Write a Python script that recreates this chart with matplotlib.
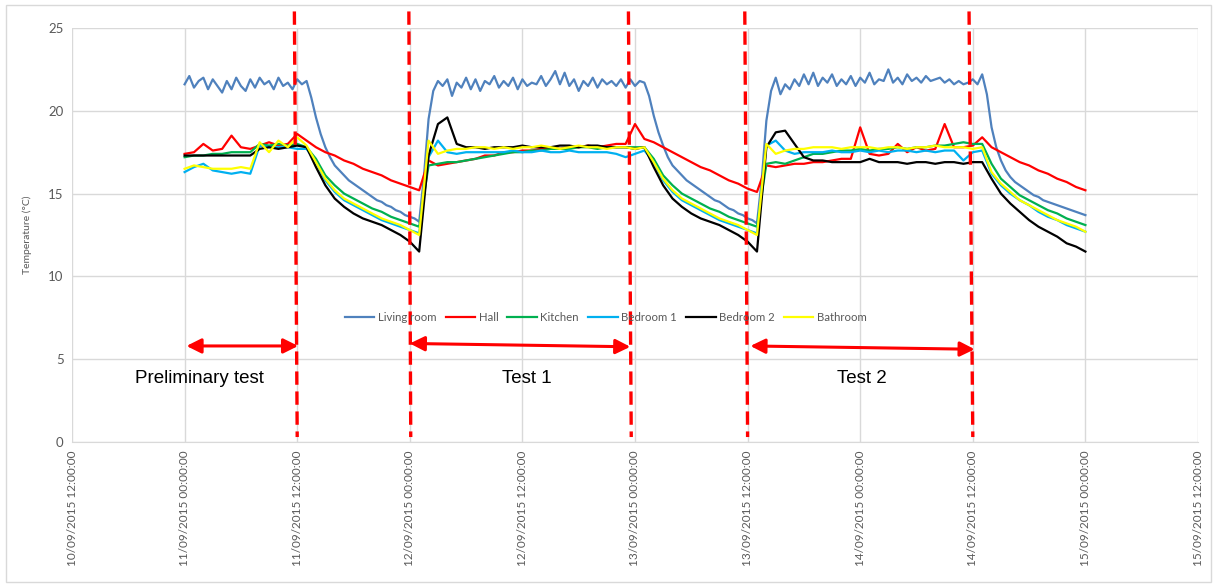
import matplotlib
matplotlib.use('Agg')
import matplotlib.pyplot as plt
import numpy as np
from matplotlib.patches import Rectangle

# hours since 11/09/2015 00:00
hours = np.arange(97)           # hourly readings
hours_half = np.arange(193) * 0.5  # living room, half-hourly

living_room = [
    # preliminary heating 0-13h
    21.6, 22.1, 21.4, 21.8, 22.0, 21.3, 21.9, 21.5, 21.1, 21.8,
    21.3, 22.0, 21.5, 21.2, 21.9, 21.4, 22.0, 21.6, 21.8, 21.3,
    22.0, 21.5, 21.7, 21.3, 21.9, 21.6, 21.8,
    # cooling 13.5-25h
    20.8, 19.6, 18.6, 17.8, 17.2, 16.7, 16.4, 16.1, 15.8, 15.6,
    15.4, 15.2, 15.0, 14.8, 14.6, 14.5, 14.3, 14.2, 14.0, 13.9,
    13.7, 13.6, 13.5, 13.3,
    # test 1 25.5-49h
    16.0, 19.5, 21.2, 21.8, 21.5, 21.9, 20.9, 21.7, 21.4, 22.0,
    21.3, 21.9, 21.2, 21.8, 21.6, 22.1, 21.4, 21.8, 21.5, 22.0,
    21.3, 21.9, 21.5, 21.7, 21.6, 22.1, 21.5, 21.9, 22.4, 21.6,
    22.3, 21.5, 21.9, 21.2, 21.8, 21.5, 22.0, 21.4, 21.9, 21.6,
    21.8, 21.5, 21.9, 21.4, 21.9, 21.5, 21.8, 21.7,
    # cooling 49.5-61h
    20.9, 19.7, 18.7, 17.9, 17.2, 16.7, 16.4, 16.1, 15.8, 15.6,
    15.4, 15.2, 15.0, 14.8, 14.6, 14.5, 14.3, 14.1, 14.0, 13.8,
    13.7, 13.5, 13.4, 13.2,
    # test 2 61.5-85h
    15.8, 19.4, 21.2, 22.0, 21.0, 21.6, 21.3, 21.9, 21.5, 22.2,
    21.6, 22.3, 21.5, 22.0, 21.7, 22.2, 21.5, 21.9, 21.6, 22.1,
    21.5, 22.0, 21.7, 22.3, 21.6, 21.9, 21.8, 22.5, 21.7, 22.0,
    21.6, 22.2, 21.8, 22.0, 21.7, 22.1, 21.8, 21.9, 22.0, 21.7,
    21.9, 21.6, 21.8, 21.6, 21.7, 21.9, 21.6, 22.2,
    # cooling 85.5-96h
    21.0, 19.0, 17.8, 17.0, 16.4, 16.0, 15.7, 15.5, 15.3, 15.1,
    14.9, 14.8, 14.6, 14.5, 14.4, 14.3, 14.2, 14.1, 14.0, 13.9,
    13.8, 13.7,
]

hall = [
    17.4, 17.5, 18.0, 17.6, 17.7, 18.5, 17.8, 17.7, 17.9, 18.1, 17.9, 18.0, 18.6, 18.2,
    17.8, 17.5, 17.3, 17.0, 16.8, 16.5, 16.3, 16.1, 15.8, 15.6, 15.4, 15.2,
    17.0, 16.7, 16.8, 16.9, 17.0, 17.1, 17.3, 17.3, 17.5, 17.5, 17.6, 17.6,
    17.7, 17.8, 17.7, 17.8, 17.8, 17.9, 17.8, 17.9, 18.0, 18.0, 19.2, 18.3,
    18.1, 17.8, 17.5, 17.2, 16.9, 16.6, 16.4, 16.1, 15.8, 15.6, 15.3, 15.1,
    16.7, 16.6, 16.7, 16.8, 16.8, 16.9, 16.9, 17.0, 17.1, 17.1, 19.0, 17.4,
    17.3, 17.4, 18.0, 17.5, 17.8, 17.6, 17.7, 19.2, 17.8, 17.8, 17.9, 18.4,
    17.8, 17.5, 17.2, 16.9, 16.7, 16.4, 16.2, 15.9, 15.7, 15.4, 15.2,
]

kitchen = [
    17.2, 17.3, 17.3, 17.4, 17.4, 17.5, 17.5, 17.5, 18.0, 17.9, 18.0, 17.9, 18.0, 17.8,
    17.1, 16.1, 15.5, 15.0, 14.7, 14.4, 14.1, 13.9, 13.6, 13.4, 13.2, 13.0,
    16.7, 16.8, 16.9, 16.9, 17.0, 17.1, 17.2, 17.3, 17.4, 17.5, 17.5, 17.6,
    17.6, 17.7, 17.7, 17.7, 17.8, 17.8, 17.7, 17.8, 17.8, 17.8, 17.8, 17.8,
    17.1, 16.1, 15.5, 15.0, 14.7, 14.4, 14.1, 13.9, 13.6, 13.4, 13.2, 13.0,
    16.8, 16.9, 16.8, 17.0, 17.2, 17.4, 17.4, 17.5, 17.6, 17.6, 17.7, 17.6,
    17.7, 17.7, 17.8, 17.7, 17.8, 17.8, 17.9, 17.9, 18.0, 18.1, 18.0, 18.0,
    16.8, 15.9, 15.4, 14.9, 14.6, 14.3, 14.0, 13.8, 13.5, 13.3, 13.1,
]

bedroom_1 = [
    16.3, 16.6, 16.8, 16.4, 16.3, 16.2, 16.3, 16.2, 17.9, 17.8, 17.8, 17.8, 17.7, 17.7,
    16.9, 15.8, 15.1, 14.6, 14.3, 14.0, 13.7, 13.4, 13.2, 13.0, 12.8, 12.6,
    17.2, 18.2, 17.5, 17.4, 17.5, 17.5, 17.5, 17.5, 17.5, 17.6, 17.5, 17.5,
    17.6, 17.5, 17.5, 17.6, 17.5, 17.5, 17.5, 17.5, 17.4, 17.2, 17.4, 17.6,
    16.9, 15.8, 15.1, 14.6, 14.3, 14.0, 13.7, 13.4, 13.2, 13.0, 12.8, 12.6,
    17.9, 18.2, 17.6, 17.4, 17.5, 17.5, 17.5, 17.6, 17.5, 17.5, 17.6, 17.5,
    17.6, 17.5, 17.6, 17.6, 17.5, 17.6, 17.5, 17.6, 17.6, 17.0, 17.5, 17.6,
    16.2, 15.5, 15.0, 14.6, 14.3, 13.9, 13.6, 13.4, 13.1, 12.9, 12.7,
]

bedroom_2 = [
    17.3, 17.3, 17.3, 17.3, 17.3, 17.3, 17.3, 17.3, 17.7, 17.8, 17.7, 17.8, 17.9, 17.8,
    16.6, 15.5, 14.7, 14.2, 13.8, 13.5, 13.3, 13.1, 12.8, 12.5, 12.1, 11.5,
    17.3, 19.2, 19.6, 18.0, 17.8, 17.8, 17.7, 17.8, 17.8, 17.8, 17.9, 17.8,
    17.8, 17.8, 17.9, 17.9, 17.8, 17.9, 17.9, 17.8, 17.8, 17.8, 17.7, 17.8,
    16.6, 15.5, 14.7, 14.2, 13.8, 13.5, 13.3, 13.1, 12.8, 12.5, 12.1, 11.5,
    17.8, 18.7, 18.8, 18.0, 17.2, 17.0, 17.0, 16.9, 16.9, 16.9, 16.9, 17.1,
    16.9, 16.9, 16.9, 16.8, 16.9, 16.9, 16.8, 16.9, 16.9, 16.8, 16.9, 16.9,
    15.9, 15.0, 14.4, 13.9, 13.4, 13.0, 12.7, 12.4, 12.0, 11.8, 11.5,
]

bathroom = [
    16.5, 16.7, 16.6, 16.5, 16.5, 16.5, 16.6, 16.5, 18.1, 17.5, 18.2, 17.8, 18.4, 17.9,
    16.9, 15.9, 15.2, 14.7, 14.4, 14.1, 13.8, 13.5, 13.3, 13.1, 12.8, 12.5,
    18.2, 17.4, 17.6, 17.7, 17.7, 17.8, 17.8, 17.7, 17.8, 17.7, 17.8, 17.8,
    17.9, 17.8, 17.7, 17.8, 17.9, 17.8, 17.8, 17.7, 17.8, 17.8, 17.7, 17.8,
    16.9, 15.9, 15.2, 14.7, 14.4, 14.1, 13.8, 13.5, 13.3, 13.1, 12.8, 12.5,
    18.0, 17.4, 17.6, 17.7, 17.7, 17.8, 17.8, 17.8, 17.7, 17.8, 17.8, 17.8,
    17.7, 17.8, 17.8, 17.7, 17.8, 17.8, 17.9, 17.8, 17.8, 17.8, 17.7, 17.8,
    16.3, 15.6, 15.1, 14.6, 14.3, 14.0, 13.7, 13.4, 13.2, 13.0, 12.7,
]

tick_hours = [-12, 0, 12, 24, 36, 48, 60, 72, 84, 96, 108]
tick_labels = ['10/09/2015 12:00:00', '11/09/2015 00:00:00', '11/09/2015 12:00:00',
               '12/09/2015 00:00:00', '12/09/2015 12:00:00', '13/09/2015 00:00:00',
               '13/09/2015 12:00:00', '14/09/2015 00:00:00', '14/09/2015 12:00:00',
               '15/09/2015 00:00:00', '15/09/2015 12:00:00']

# hand drawn markers: dashed lines (top, bottom hour), arrows and labels
dash_lines = [(11.7, 12.0), (23.9, 24.1), (47.3, 47.6), (59.7, 60.0), (83.6, 84.0)]
arrows = [((0.2, 5.8), (12.1, 5.8)), ((24.0, 5.95), (47.5, 5.75)), ((60.3, 5.8), (84.2, 5.6))]
phase_labels = [('Preliminary test', 1.6), ('Test 1', 36.5), ('Test 2', 72.2)]

grey = '#595959'
fig = plt.figure(figsize=(12.14, 5.84), dpi=100)
fig.patches.append(Rectangle((6 / 1214, 2 / 584), 1205 / 1214, 577 / 584, transform=fig.transFigure,
                             fill=False, edgecolor='#D9D9D9', lw=1))
ax = fig.add_axes([72 / 1214, 1 - 442 / 584, 1126 / 1214, 414 / 584])

lw = 1.6
ax.plot(hours_half, living_room, color='#4F81BD', lw=lw, label='Living room')
ax.plot(hours, hall, color='#FF0000', lw=lw, label='Hall')
ax.plot(hours, kitchen, color='#00B050', lw=lw, label='Kitchen')
ax.plot(hours, bedroom_1, color='#00B0F0', lw=lw, label='Bedroom 1')
ax.plot(hours, bedroom_2, color='#000000', lw=lw, label='Bedroom 2')
ax.plot(hours, bathroom, color='#FFFF00', lw=lw, label='Bathroom')

ax.set_xlim(-12, 108)
ax.set_ylim(0, 25)
ax.set_xticks(tick_hours)
ax.set_xticklabels(tick_labels, rotation=90, fontsize=8.5, color=grey, family='Lato')
ax.set_yticks([0, 5, 10, 15, 20, 25])
ax.set_yticklabels(['0', '5', '10', '15', '20', '25'], fontsize=9.5, color=grey, family='Lato')
ax.tick_params(length=0, pad=6)
ax.grid(True, color='#D9D9D9', lw=1)
ax.set_axisbelow(True)
for s in ['top', 'right', 'left']:
    ax.spines[s].set_visible(False)
ax.spines['bottom'].set_color('#D9D9D9')
ax.set_ylabel('Temperature (°C)', fontsize=7.5, color=grey, family='Lato', labelpad=12)

leg = ax.legend(loc='center', bbox_to_anchor=(0.474, 0.3), ncol=6, frameon=False,
                prop={'family': 'Lato', 'size': 8.2}, handlelength=2.6, columnspacing=0.8,
                handletextpad=0.3)
for t in leg.get_texts():
    t.set_color(grey)

for top, bottom in dash_lines:
    ax.plot([top, bottom], [26.0, 0.3], color='red', lw=2.4, ls=(0, (4, 2)), clip_on=False)

for start, end in arrows:
    ax.annotate('', xy=end, xytext=start,
                arrowprops=dict(arrowstyle='<|-|>', color='red', lw=2.2, mutation_scale=22,
                                shrinkA=0, shrinkB=0))

for text, x in phase_labels:
    ax.text(x, 3.85, text, ha='center', va='center', fontsize=13.5, family='Liberation Sans')

fig.savefig('out.png', dpi=100)
